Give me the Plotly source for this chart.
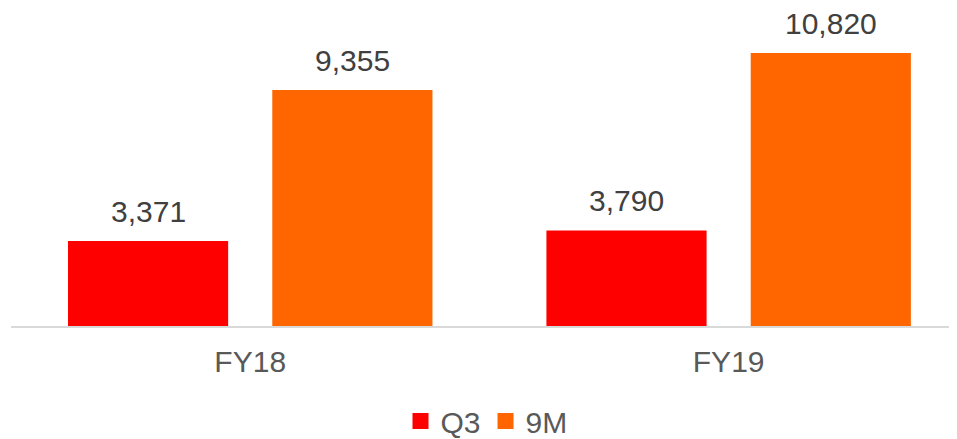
import plotly.graph_objects as go

categories = ["FY18", "FY19"]
series_names = ["Q3", "9M"]
q3_values = [3371, 3790]
m9_values = [9355, 10820]
colors = ["#FF0000", "#FF6600"]

bargap = 0.146
bargroupgap = 0.216
slot = (1 - bargap) / 2

fig = go.Figure()
for name, vals, col in zip(series_names, [q3_values, m9_values], colors):
    fig.add_trace(go.Bar(
        x=categories, y=vals, name=name, showlegend=False,
        marker=dict(color=col, line=dict(width=0)),
    ))
# legend entries with larger square swatches
for name, col in zip(series_names, colors):
    fig.add_trace(go.Scatter(
        x=[None], y=[None], name=name, mode="markers",
        marker=dict(symbol="square", size=16, color=col),
    ))

# value labels
for si, vals in enumerate([q3_values, m9_values]):
    off = (si - 0.5) * slot
    for ci, v in enumerate(vals):
        fig.add_annotation(
            x=ci + off, y=v, xref="x", yref="y",
            text=f"{v:,}", showarrow=False,
            yanchor="bottom", yshift=11,
            font=dict(family="Liberation Sans, Arial", size=30, color="#404040"),
        )

# the page body adds an 8px offset; margins compensate for it
fig.update_layout(
    width=957, height=439,
    margin=dict(l=3, r=0, t=12, b=121, autoexpand=False),
    paper_bgcolor="white", plot_bgcolor="white",
    barmode="group", bargap=bargap, bargroupgap=bargroupgap,
    font=dict(family="Liberation Sans, Arial", size=30, color="#595959"),
    showlegend=True,
    legend=dict(
        orientation="h", xref="container", x=0.5, xanchor="center",
        yref="container", y=0.0, yanchor="bottom",
        font=dict(size=30, color="#595959"),
        itemwidth=30, tracegroupgap=0,
    ),
    xaxis=dict(
        type="category", range=[-0.5, 1.494],
        showline=True, linecolor="#d9d9d9", linewidth=1.5,
        showgrid=False, zeroline=False, ticks="",
        ticklabelstandoff=8,
        tickfont=dict(size=30, color="#595959"),
    ),
    yaxis=dict(
        range=[0, 12128], visible=False, showgrid=False, zeroline=False,
    ),
)

fig.write_html("out.html")
